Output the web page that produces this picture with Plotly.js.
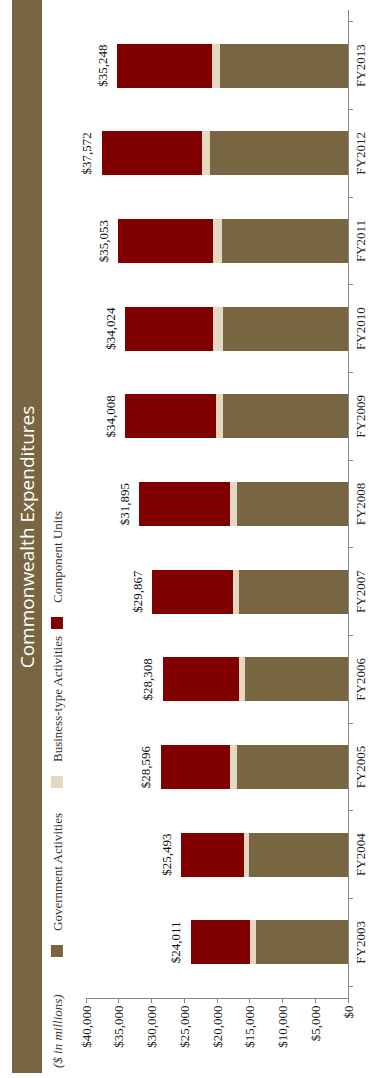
<!DOCTYPE html>
<html><head><meta charset="utf-8">
<script src="https://cdn.plot.ly/plotly-3.0.1.min.js"></script>
<style>
html,body{margin:0;padding:0;width:369px;height:1078px;overflow:hidden;background:#fff;}
#wrap{position:absolute;left:0;top:0;width:1078px;height:369px;transform-origin:0 0;transform:translate(0,1078px) rotate(-90deg);}
</style></head><body><div id="wrap"></div>
<script>
const categories = ['FY2003','FY2004','FY2005','FY2006','FY2007','FY2008','FY2009','FY2010','FY2011','FY2012','FY2013'];
const government = [14000,15170,17000,15680,16640,16950,19080,19140,19240,21020,19490];
const business   = [1020,760,970,920,920,1020,1020,1530,1370,1270,1320];
const component  = [8991,9563,10626,11708,12307,13925,13908,13354,14443,15282,14438];
const totals     = [24011,25493,28596,28308,29867,31895,34008,34024,35053,37572,35248];
const totalLabels = ['$24,011','$25,493','$28,596','$28,308','$29,867','$31,895','$34,008','$34,024','$35,053','$37,572','$35,248'];
const yTicks = [0,5000,10000,15000,20000,25000,30000,35000,40000];
const yTickLabels = ['$0','$5,000','$10,000','$15,000','$20,000','$25,000','$30,000','$35,000','$40,000'];

const BROWN = '#786541', TAN = '#E6D7C2', RED = '#800000';
const SERIF = 'Liberation Serif, Times New Roman, serif';

const traces = [
  {type:'bar', name:'Government Activities', x:categories, y:government, marker:{color:BROWN}, legend:'legend', hoverinfo:'skip'},
  {type:'bar', name:'Business-type Activities', x:categories, y:business, marker:{color:TAN}, legend:'legend2', hoverinfo:'skip'},
  {type:'bar', name:'Component Units', x:categories, y:component, marker:{color:RED}, legend:'legend3', hoverinfo:'skip'},
  {type:'scatter', mode:'markers+text', x:categories, y:totals, text:totalLabels, textposition:'top center',
   marker:{size:10, color:'rgba(0,0,0,0)'},
   textfont:{family:SERIF, size:13, color:'#111'}, showlegend:false, hoverinfo:'skip', cliponaxis:false}
];

const W=1078, H=369, ml=80, mr=10, mt=86, mb=21;
const pw=W-ml-mr, ph=H-mt-mb;
const px = u => (u-ml)/pw;
const py = v => (H-mb-v)/ph;

const legBase = {orientation:'h', yanchor:'middle', xanchor:'left', y:py(57), bgcolor:'rgba(0,0,0,0)',
  font:{family:SERIF, size:13, color:'#333'}, itemwidth:30};

const layout = {
  width:W, height:H,
  margin:{l:ml, r:mr, t:mt, b:mb},
  paper_bgcolor:'#fff', plot_bgcolor:'#fff',
  barmode:'stack', bargap:0.5,
  showlegend:true,
  title:{text:'Commonwealth Expenditures', font:{family:'Open Sans', size:19, color:'#fff', weight:400},
         x:541/W, xref:'container', xanchor:'center', y:1-27/H, yref:'container', yanchor:'middle'},
  xaxis:{type:'category', tickson:'boundaries', ticks:'outside', ticklen:4, tickcolor:'#888',
         showline:true, linecolor:'#888', linewidth:1, showgrid:false,
         tickfont:{family:SERIF, size:13, color:'#222'}},
  yaxis:{range:[0,40000], tickvals:yTicks, ticktext:yTickLabels, ticks:'outside', ticklen:4, tickcolor:'#888',
         showline:true, linecolor:'#888', linewidth:1, showgrid:false, zeroline:false,
         tickfont:{family:SERIF, size:13, color:'#222'}},
  legend: Object.assign({}, legBase, {x:px(107)}),
  legend2: Object.assign({}, legBase, {x:px(276)}),
  legend3: Object.assign({}, legBase, {x:px(435)}),
  shapes:[{type:'rect', xref:'paper', yref:'paper', x0:px(5), x1:px(1078), y0:py(42), y1:py(12),
           fillcolor:BROWN, line:{width:0}, layer:'below'}],
  annotations:[{text:'($ in millions)', xref:'paper', yref:'paper', x:px(8), y:py(57), xanchor:'left', yanchor:'middle',
                showarrow:false, font:{family:SERIF, size:13, color:'#333', style:'italic'}}]
};

Plotly.newPlot('wrap', traces, layout, {staticPlot:true, displayModeBar:false});
</script></body></html>
